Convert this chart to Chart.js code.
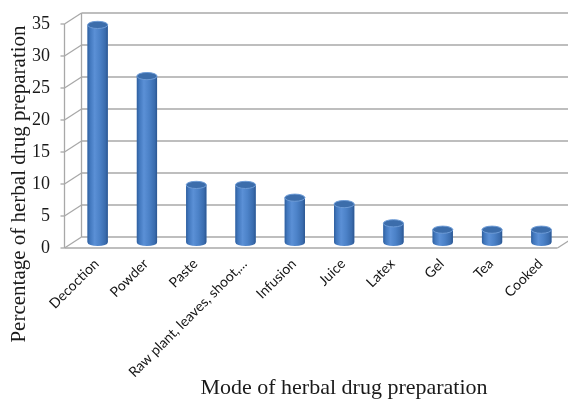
<!DOCTYPE html>
<html>
<head>
<meta charset="utf-8">
<script src="https://cdn.jsdelivr.net/npm/chart.js@4/dist/chart.umd.min.js"></script>
<style>
  html, body { margin: 0; padding: 0; background: #ffffff; }
  #wrap { width: 568px; height: 400px; }
</style>
</head>
<body>
<div id="wrap"><canvas id="chart" width="568" height="400"></canvas></div>
<script>
// Share of each mode of herbal drug preparation (%)
const categories = ['Decoction', 'Powder', 'Paste', 'Raw plant, leaves, shoot,...', 'Infusion', 'Juice', 'Latex', 'Gel', 'Tea', 'Cooked'];
const percentages = [34, 26, 9, 9, 7, 6, 3, 2, 2, 2];
const yTicks = [0, 5, 10, 15, 20, 25, 30, 35];
const yTitle = 'Percentage of herbal drug preparation';
const xTitle = 'Mode of herbal drug preparation';

// half of the 3-D depth offset between the front axis and the back wall
const DX = 8.5, DY = 5.5;
const SERIF = '"Liberation Serif", "Times New Roman", serif';

function line(ctx, x1, y1, x2, y2) {
  ctx.beginPath();
  ctx.moveTo(x1, y1);
  ctx.lineTo(x2, y2);
  ctx.stroke();
}

// Back wall, side wall, floor and front axis of the 3-D plot box
const wallPlugin = {
  id: 'wall',
  beforeDatasetsDraw(chart) {
    const { ctx, chartArea: a, scales: { y } } = chart;
    const backL = a.left + DX, frontL = a.left - DX;
    ctx.save();
    ctx.strokeStyle = '#a8a8a8';
    ctx.lineWidth = 1.3;
    yTicks.forEach(v => {
      const py = y.getPixelForValue(v);
      line(ctx, backL, py - DY, chart.width, py - DY);
      line(ctx, frontL, py + DY, backL, py - DY);
      line(ctx, frontL - 4, py + DY, frontL, py + DY);
    });
    const top = y.getPixelForValue(yTicks[yTicks.length - 1]);
    const bottom = y.getPixelForValue(0);
    line(ctx, backL, top - DY, backL, bottom - DY);
    line(ctx, frontL, top + DY, frontL, bottom + DY);
    line(ctx, frontL, bottom + DY, a.right - DX, bottom + DY);
    line(ctx, a.right - DX, bottom + DY, a.right + DX, bottom - DY);
    ctx.restore();
  },
  afterDatasetsDraw(chart) {
    const { ctx } = chart;
    const meta = chart.getDatasetMeta(0);
    ctx.save();
    meta.data.forEach(bar => {
      const { x, y, base, width } = bar.getProps(['x', 'y', 'base', 'width'], true);
      const rx = width / 2, ry = 3.6;
      const g = ctx.createLinearGradient(x - rx, 0, x + rx, 0);
      g.addColorStop(0, '#2f5f9e');
      g.addColorStop(0.12, '#4177bd');
      g.addColorStop(0.35, '#5b90d6');
      g.addColorStop(0.6, '#4c82c8');
      g.addColorStop(0.88, '#3a6cae');
      g.addColorStop(1, '#2c5690');
      // cylinder body with rounded bottom
      ctx.fillStyle = g;
      ctx.beginPath();
      ctx.moveTo(x - rx, y);
      ctx.lineTo(x - rx, base);
      ctx.ellipse(x, base, rx, ry, 0, Math.PI, 0, true);
      ctx.lineTo(x + rx, y);
      ctx.ellipse(x, y, rx, ry, 0, 0, Math.PI, false);
      ctx.closePath();
      ctx.fill();
      // top cap
      ctx.beginPath();
      ctx.ellipse(x, y, rx, ry, 0, 0, Math.PI * 2);
      ctx.fillStyle = '#3c6dab';
      ctx.fill();
      ctx.strokeStyle = '#6d9bd6';
      ctx.lineWidth = 1;
      ctx.stroke();
    });
    ctx.restore();
  },
  afterDraw(chart) {
    const { ctx } = chart;
    ctx.save();
    ctx.fillStyle = '#1a1a1a';
    ctx.textAlign = 'center';
    ctx.textBaseline = 'middle';
    ctx.font = '22px ' + SERIF;
    ctx.fillText(xTitle, 344, 388);
    ctx.font = '21px ' + SERIF;
    ctx.translate(19, 184);
    ctx.rotate(-Math.PI / 2);
    ctx.fillText(yTitle, 0, 0);
    ctx.restore();
  }
};

new Chart(document.getElementById('chart'), {
  type: 'bar',
  data: {
    labels: categories,
    datasets: [{
      data: percentages,
      backgroundColor: '#4a7fc3',
      borderWidth: 0,
      barPercentage: 0.82,
      categoryPercentage: 0.5
    }]
  },
  options: {
    responsive: false,
    animation: false,
    layout: { padding: { top: 18.5, right: 2, left: 0, bottom: 0 } },
    plugins: { legend: { display: false }, tooltip: { enabled: false } },
    scales: {
      x: {
        grid: { display: false, drawTicks: false },
        border: { display: false },
        ticks: {
          autoSkip: false,
          minRotation: 45,
          maxRotation: 45,
          padding: 13,
          labelOffset: -1,
          color: '#141414',
          font: { family: 'Lato, "Open Sans", sans-serif', size: 14 }
        },
        afterFit(scale) { scale.height = 157.5; }
      },
      y: {
        min: 0,
        max: 35,
        afterBuildTicks(scale) { scale.ticks = yTicks.map(v => ({ value: v })); },
        grid: { display: false, drawTicks: false },
        border: { display: false },
        ticks: {
          padding: 23,
          labelOffset: DY,
          color: '#1a1a1a',
          font: { family: SERIF, size: 18 }
        },
        afterFit(scale) {
          scale.width = 73;
          scale.paddingTop = 0;
          scale.paddingBottom = 0;
        }
      }
    }
  },
  plugins: [wallPlugin]
});
</script>
</body>
</html>
